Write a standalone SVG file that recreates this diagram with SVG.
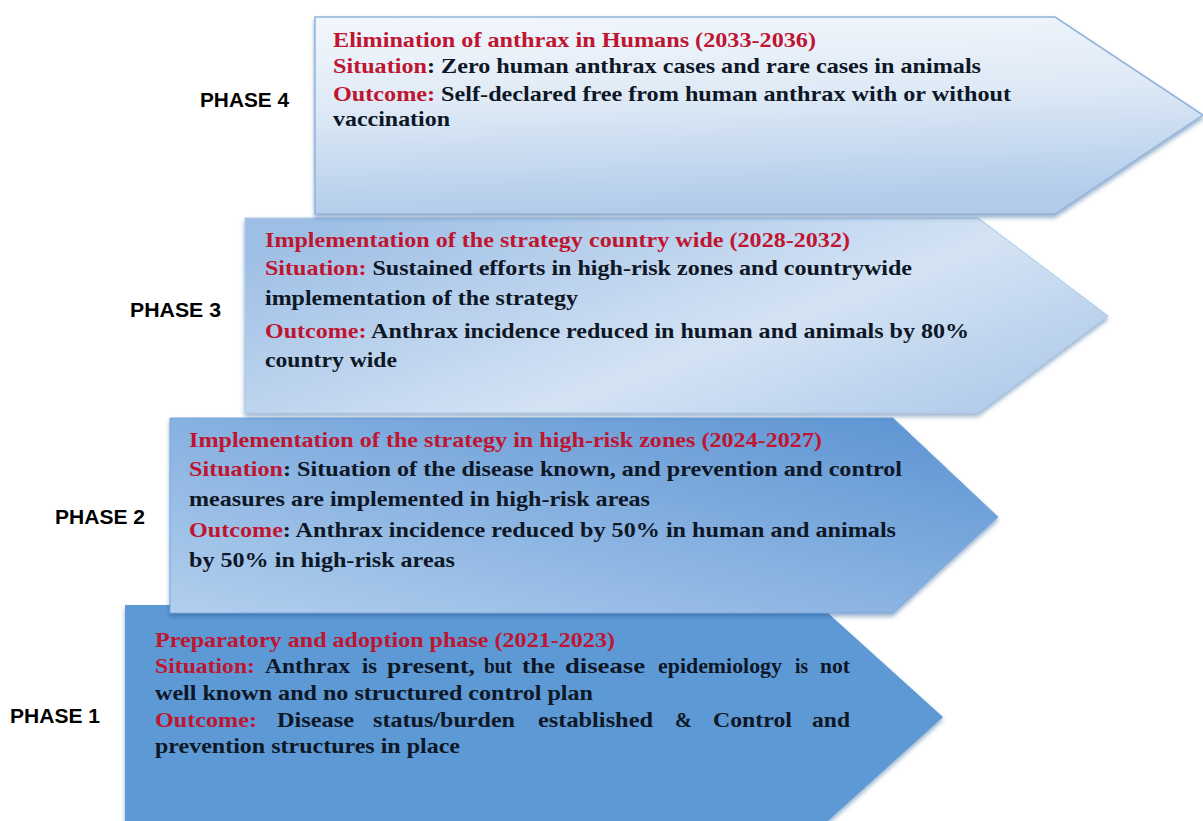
<svg xmlns="http://www.w3.org/2000/svg" width="1203" height="821" viewBox="0 0 1203 821">
  <defs>
    <style>
      .body { font-family: "Liberation Serif", "Times New Roman", serif; font-weight: bold; font-size: 22px; fill: #0e1726; }
      .red { fill: #bf1530; }
      .phase { font-family: "Liberation Sans", Arial, sans-serif; font-weight: bold; font-size: 20px; fill: #000; }
    </style>
    <filter id="shadow" x="-5%" y="-5%" width="115%" height="120%">
      <feDropShadow dx="0" dy="3" stdDeviation="2" flood-color="#1f4e8c" flood-opacity="0.45"/>
    </filter>
    <linearGradient id="g4" x1="0" y1="0" x2="0.15" y2="1">
      <stop offset="0" stop-color="#f3f7fc"/>
      <stop offset="0.45" stop-color="#dfeaf6"/>
      <stop offset="1" stop-color="#b2ccea"/>
    </linearGradient>
    <linearGradient id="g3" x1="0" y1="0.2" x2="1" y2="0.8">
      <stop offset="0" stop-color="#9ebfe5"/>
      <stop offset="0.6" stop-color="#d4e3f4"/>
      <stop offset="1" stop-color="#b0cbea"/>
    </linearGradient>
    <linearGradient id="g2" x1="1" y1="0" x2="0" y2="1">
      <stop offset="0" stop-color="#5a92d2"/>
      <stop offset="1" stop-color="#b2cfee"/>
    </linearGradient>
  </defs>

  <rect width="1203" height="821" fill="#ffffff"/>

  <!-- Phase 1: bottom chevron -->
  <g id="phase1">
    <polygon points="125,605 819,605 943,717 819,829 125,829" fill="#5d99d5" filter="url(#shadow)"/>
    <text class="phase" x="10" y="723" textLength="90" lengthAdjust="spacingAndGlyphs">PHASE 1</text>
    <text class="body red" x="155" y="647" textLength="460" lengthAdjust="spacingAndGlyphs">Preparatory and adoption phase (2021-2023)</text>
    <text class="body" y="673"><tspan class="red" x="155" textLength="100" lengthAdjust="spacingAndGlyphs">Situation:</tspan><tspan x="265" textLength="85" lengthAdjust="spacingAndGlyphs">Anthrax</tspan><tspan x="362" textLength="15" lengthAdjust="spacingAndGlyphs">is</tspan><tspan x="387" textLength="88" lengthAdjust="spacingAndGlyphs">present,</tspan><tspan x="484" textLength="28" lengthAdjust="spacingAndGlyphs">but</tspan><tspan x="522" textLength="33" lengthAdjust="spacingAndGlyphs">the</tspan><tspan x="565" textLength="80" lengthAdjust="spacingAndGlyphs">disease</tspan><tspan x="658" textLength="124" lengthAdjust="spacingAndGlyphs">epidemiology</tspan><tspan x="795" textLength="13" lengthAdjust="spacingAndGlyphs">is</tspan><tspan x="820" textLength="30" lengthAdjust="spacingAndGlyphs">not</tspan></text>
    <text class="body" x="155" y="700" textLength="438" lengthAdjust="spacingAndGlyphs">well known and no structured control plan</text>
    <text class="body" y="727"><tspan class="red" x="155" textLength="102" lengthAdjust="spacingAndGlyphs">Outcome:</tspan><tspan x="277" textLength="77" lengthAdjust="spacingAndGlyphs">Disease</tspan><tspan x="373" textLength="142" lengthAdjust="spacingAndGlyphs">status/burden</tspan><tspan x="538" textLength="115" lengthAdjust="spacingAndGlyphs">established</tspan><tspan x="675" textLength="17" lengthAdjust="spacingAndGlyphs">&amp;</tspan><tspan x="713" textLength="79" lengthAdjust="spacingAndGlyphs">Control</tspan><tspan x="812" textLength="38" lengthAdjust="spacingAndGlyphs">and</tspan></text>
    <text class="body" x="155" y="753" textLength="305" lengthAdjust="spacingAndGlyphs">prevention structures in place</text>
  </g>

  <!-- Phase 2 -->
  <g id="phase2">
    <polygon points="170,418 893,418 998,517 893,613 170,613" fill="url(#g2)" stroke="#79a6dc" stroke-width="1" filter="url(#shadow)"/>
    <text class="phase" x="55" y="524" textLength="90" lengthAdjust="spacingAndGlyphs">PHASE 2</text>
    <text class="body red" x="189" y="447" textLength="633" lengthAdjust="spacingAndGlyphs">Implementation of the strategy in high-risk zones (2024-2027)</text>
    <text class="body" x="189" y="476" textLength="713" lengthAdjust="spacingAndGlyphs"><tspan class="red">Situation</tspan>: Situation of the disease known, and prevention and control</text>
    <text class="body" x="189" y="506" textLength="461" lengthAdjust="spacingAndGlyphs">measures are implemented in high-risk areas</text>
    <text class="body" x="189" y="537" textLength="707" lengthAdjust="spacingAndGlyphs"><tspan class="red">Outcome</tspan>: Anthrax incidence reduced by 50% in human and animals</text>
    <text class="body" x="189" y="567" textLength="266" lengthAdjust="spacingAndGlyphs">by 50% in high-risk areas</text>
  </g>

  <!-- Phase 3 -->
  <g id="phase3">
    <polygon points="245,218 978,218 1108,316 978,413 245,413" fill="url(#g3)" stroke="#a9c6e8" stroke-width="1" filter="url(#shadow)"/>
    <text class="phase" x="130" y="317" textLength="91" lengthAdjust="spacingAndGlyphs">PHASE 3</text>
    <text class="body red" x="265" y="247" textLength="585" lengthAdjust="spacingAndGlyphs">Implementation of the strategy country wide (2028-2032)</text>
    <text class="body" x="265" y="275" textLength="647" lengthAdjust="spacingAndGlyphs"><tspan class="red">Situation:</tspan> Sustained efforts in high-risk zones and countrywide</text>
    <text class="body" x="265" y="305" textLength="313" lengthAdjust="spacingAndGlyphs">implementation of the strategy</text>
    <text class="body" x="265" y="338" textLength="704" lengthAdjust="spacingAndGlyphs"><tspan class="red">Outcome:</tspan> Anthrax incidence reduced in human and animals by 80%</text>
    <text class="body" x="265" y="367" textLength="132" lengthAdjust="spacingAndGlyphs">country wide</text>
  </g>

  <!-- Phase 4: top chevron -->
  <g id="phase4">
    <polygon points="315,17 1055,17 1203,115 1055,214 315,214" fill="url(#g4)" stroke="#90b3dc" stroke-width="1.5" filter="url(#shadow)"/>
    <text class="phase" x="200" y="107" textLength="89" lengthAdjust="spacingAndGlyphs">PHASE 4</text>
    <text class="body red" x="333" y="47" textLength="483" lengthAdjust="spacingAndGlyphs">Elimination of anthrax in Humans (2033-2036)</text>
    <text class="body" x="333" y="73" textLength="648" lengthAdjust="spacingAndGlyphs"><tspan class="red">Situation</tspan>: Zero human anthrax cases and rare cases in animals</text>
    <text class="body" x="333" y="101" textLength="678" lengthAdjust="spacingAndGlyphs"><tspan class="red">Outcome:</tspan> Self-declared free from human anthrax with or without</text>
    <text class="body" x="333" y="126" textLength="117" lengthAdjust="spacingAndGlyphs">vaccination</text>
  </g>

  <g id="connectors"/>
</svg>
